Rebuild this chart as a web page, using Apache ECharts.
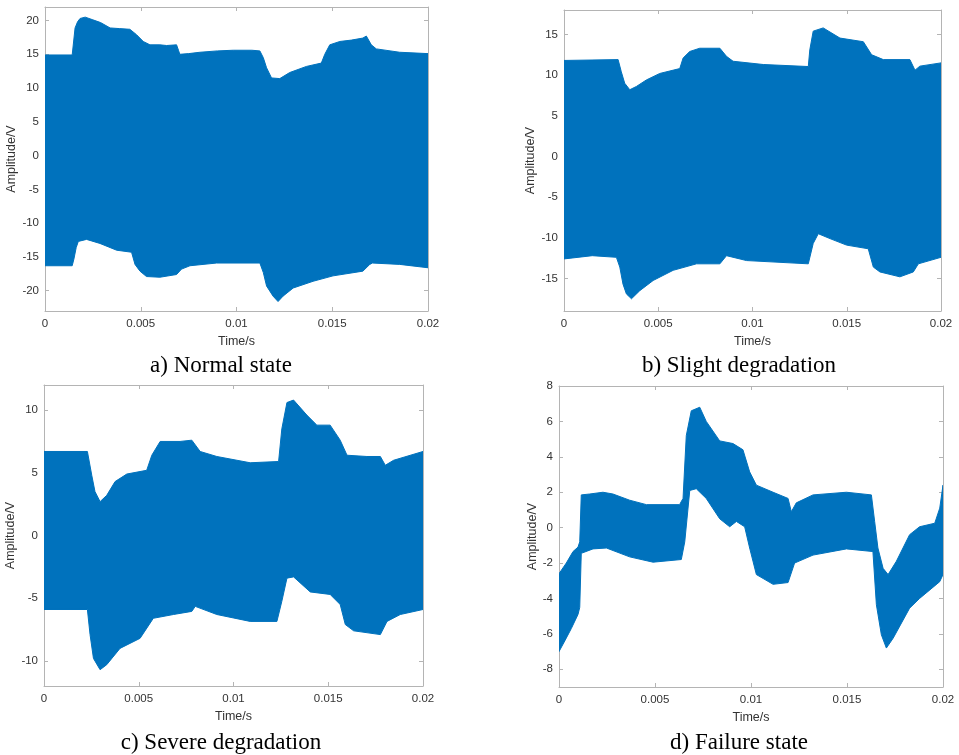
<!DOCTYPE html>
<html>
<head>
<meta charset="utf-8">
<script src="https://cdn.jsdelivr.net/npm/echarts@6/dist/echarts.min.js"></script>
<style>html,body{margin:0;padding:0;background:#fff;}#c{width:959px;height:755px;}</style>
</head>
<body>
<div id="c"></div>
<script>
// ---- Data: envelopes of the sampled voltage signal (time in s, amplitude in V) ----
const captions = ['a) Normal state', 'b) Slight degradation', 'c) Severe degradation', 'd) Failure state'];
const xTicks = [0, 0.005, 0.01, 0.015, 0.02];
const yTicksA = [-20, -15, -10, -5, 0, 5, 10, 15, 20];
const yTicksB = [-15, -10, -5, 0, 5, 10, 15];
const yTicksC = [-10, -5, 0, 5, 10];
const yTicksD = [-8, -6, -4, -2, 0, 2, 4, 6, 8];

// a) Normal state
const aUpT = [0, 0.00142, 0.00157, 0.0017, 0.00183, 0.0021, 0.0025, 0.0029, 0.0034, 0.0039, 0.00443, 0.00478, 0.00513, 0.00548, 0.006, 0.00635, 0.00687, 0.00697, 0.00704, 0.0075, 0.00809, 0.009, 0.00983, 0.0108, 0.01122, 0.0114, 0.01157, 0.01183, 0.01226, 0.01278, 0.01365, 0.01443, 0.01461, 0.01487, 0.0154, 0.016, 0.0166, 0.01678, 0.01704, 0.0173, 0.01852, 0.02];
const aUpV = [14.9, 14.9, 18.9, 19.8, 20.3, 20.5, 20.1, 19.7, 18.9, 18.8, 18.7, 17.9, 16.9, 16.4, 16.4, 16.3, 16.4, 15.6, 15.0, 15.1, 15.3, 15.5, 15.6, 15.6, 15.5, 14.5, 13.0, 11.5, 11.4, 12.3, 13.2, 13.7, 15.0, 16.4, 16.9, 17.1, 17.4, 17.7, 16.4, 15.8, 15.3, 15.1];
const aLoT = [0, 0.00142, 0.00151, 0.00163, 0.00174, 0.00217, 0.00287, 0.00374, 0.00452, 0.0047, 0.00496, 0.0053, 0.006, 0.00687, 0.00713, 0.00757, 0.00896, 0.01122, 0.0114, 0.01157, 0.01191, 0.01217, 0.01243, 0.01296, 0.014, 0.01504, 0.0166, 0.01696, 0.0171, 0.01852, 0.02];
const aLoV = [-16.3, -16.3, -15.3, -13.6, -12.7, -12.4, -13.0, -14.0, -14.3, -16.1, -17.1, -17.9, -18.0, -17.6, -16.8, -16.3, -15.9, -15.9, -17.3, -19.3, -20.8, -21.6, -20.8, -19.6, -18.6, -17.8, -17.1, -16.1, -15.9, -16.1, -16.6];

// b) Slight degradation
const bUpT = [0, 0.00287, 0.00304, 0.00322, 0.00349, 0.00384, 0.00437, 0.00508, 0.00614, 0.00632, 0.00667, 0.0072, 0.00827, 0.00862, 0.00897, 0.01057, 0.01296, 0.01304, 0.01322, 0.01375, 0.01464, 0.01588, 0.01632, 0.01694, 0.01835, 0.01862, 0.01888, 0.02];
const bUpV = [11.8, 11.9, 10.4, 9.0, 8.2, 8.6, 9.4, 10.2, 10.8, 12.1, 12.9, 13.3, 13.3, 12.3, 11.7, 11.3, 11.05, 13.1, 15.4, 15.8, 14.55, 14.1, 12.5, 11.9, 11.9, 10.6, 11.1, 11.5];
const bLoT = [0, 0.0015, 0.00278, 0.00296, 0.00313, 0.00331, 0.00358, 0.00402, 0.00473, 0.00579, 0.00703, 0.00827, 0.00862, 0.00968, 0.01296, 0.01322, 0.01349, 0.01411, 0.01499, 0.01614, 0.01641, 0.01676, 0.01782, 0.01853, 0.0188, 0.02];
const bLoV = [-12.6, -12.2, -12.4, -13.6, -15.7, -16.9, -17.5, -16.5, -15.25, -14.0, -13.2, -13.2, -12.2, -12.8, -13.2, -10.7, -9.5, -10.1, -10.9, -11.35, -13.6, -14.2, -14.8, -14.2, -13.2, -12.4];

// c) Severe degradation
const cUpT = [0, 0.00229, 0.00252, 0.00269, 0.00296, 0.00331, 0.00375, 0.00437, 0.00542, 0.00569, 0.00613, 0.00718, 0.0078, 0.00824, 0.00912, 0.01088, 0.01238, 0.01255, 0.01282, 0.01317, 0.01387, 0.0144, 0.0151, 0.01563, 0.01599, 0.01704, 0.01775, 0.01801, 0.01845, 0.02];
const cUpV = [6.7, 6.7, 4.8, 3.5, 2.7, 3.2, 4.3, 4.9, 5.2, 6.4, 7.5, 7.5, 7.6, 6.7, 6.3, 5.8, 5.9, 8.5, 10.6, 10.8, 9.6, 8.8, 8.8, 7.6, 6.4, 6.3, 6.3, 5.6, 6.0, 6.7];
const cLoT = [0, 0.00229, 0.00243, 0.00261, 0.00296, 0.00331, 0.00401, 0.00507, 0.00577, 0.00683, 0.0078, 0.00798, 0.00912, 0.01088, 0.01229, 0.01255, 0.01282, 0.01317, 0.01405, 0.0151, 0.01563, 0.0159, 0.01634, 0.01775, 0.0181, 0.0188, 0.02];
const cLoV = [-5.9, -5.9, -7.9, -9.8, -10.7, -10.3, -9.0, -8.2, -6.6, -6.3, -6.05, -5.65, -6.3, -6.85, -6.85, -5.25, -3.4, -3.3, -4.5, -4.7, -5.5, -7.1, -7.6, -7.9, -6.85, -6.3, -5.9];

// d) Failure state
const dUpT = [0, 0.00038, 0.00073, 0.00099, 0.00108, 0.00116, 0.0016, 0.00229, 0.00281, 0.00368, 0.00455, 0.00628, 0.00646, 0.00663, 0.00689, 0.00733, 0.00767, 0.00837, 0.00906, 0.00958, 0.00993, 0.01028, 0.01115, 0.01193, 0.0121, 0.01236, 0.01323, 0.01497, 0.01627, 0.01644, 0.01661, 0.01688, 0.01714, 0.01757, 0.01826, 0.01878, 0.01957, 0.01983, 0.02];
const dUpV = [-2.6, -2.0, -1.35, -1.1, -0.8, 1.85, 1.9, 2.0, 1.9, 1.55, 1.3, 1.3, 1.65, 5.2, 6.6, 6.8, 6.0, 4.9, 4.75, 4.4, 3.15, 2.4, 2.0, 1.65, 0.9, 1.4, 1.85, 2.0, 1.85, 0.35, -1.15, -2.3, -2.65, -1.9, -0.4, 0.05, 0.25, 1.1, 2.4];
const dLoT = [0, 0.0003, 0.00064, 0.00099, 0.00108, 0.00116, 0.00177, 0.00247, 0.00368, 0.0049, 0.00637, 0.00655, 0.00681, 0.00715, 0.00767, 0.00837, 0.00889, 0.00924, 0.00967, 0.00993, 0.01028, 0.01115, 0.01193, 0.01227, 0.01323, 0.01497, 0.01635, 0.01653, 0.01679, 0.01705, 0.0174, 0.01826, 0.01878, 0.01983, 0.02];
const dLoV = [-7.0, -6.4, -5.7, -4.9, -4.5, -1.45, -1.2, -1.15, -1.65, -1.95, -1.8, -0.8, 2.1, 2.2, 1.65, 0.5, 0.05, 0.35, 0.05, -1.15, -2.65, -3.2, -3.1, -2.0, -1.55, -1.2, -1.35, -4.35, -6.05, -6.8, -6.25, -4.55, -4.0, -3.05, -2.65];

// ---- Layout / styling ----
const panels = [
  {grid: {left: 45, top: 7, width: 383, height: 304}, yMin: -23, yMax: 22, yTicks: yTicksA, nameGap: 27,
   up: [aUpT, aUpV], lo: [aLoT, aLoV], cap: [221, 366]},
  {grid: {left: 564, top: 10, width: 377, height: 301}, yMin: -19, yMax: 18, yTicks: yTicksB, nameGap: 26,
   up: [bUpT, bUpV], lo: [bLoT, bLoV], cap: [739, 366]},
  {grid: {left: 44, top: 385, width: 379, height: 301}, yMin: -12, yMax: 12, yTicks: yTicksC, nameGap: 26,
   up: [cUpT, cUpV], lo: [cLoT, cLoV], cap: [221, 743]},
  {grid: {left: 559, top: 386, width: 384, height: 301}, yMin: -9, yMax: 8, yTicks: yTicksD, nameGap: 20,
   up: [dUpT, dUpV], lo: [dLoT, dLoV], cap: [739, 743]}
];

const BLUE = '#0072BD';
const FRAME = '#b4b4b4';
const LABEL = '#333333';
const SANS = 'Liberation Sans, Arial, sans-serif';

const grids = [], xAxes = [], yAxes = [], series = [], graphics = [];

panels.forEach((p, i) => {
  grids.push(Object.assign({containLabel: false}, p.grid));
  const tickStyle = {show: true, inside: true, length: 4, lineStyle: {color: FRAME}};
  // bottom x
  xAxes.push({
    type: 'value', gridIndex: i, position: 'bottom', min: 0, max: 0.02, interval: 0.005,
    name: 'Time/s', nameLocation: 'middle', nameGap: 24,
    nameTextStyle: {fontFamily: SANS, fontSize: 12.5, color: LABEL},
    axisLine: {show: true, onZero: false, lineStyle: {color: FRAME}},
    axisTick: tickStyle,
    axisLabel: {fontFamily: SANS, fontSize: 11.5, color: LABEL, margin: 7,
      formatter: v => String(+v.toFixed(3))},
    splitLine: {show: false}
  });
  // top x (frame + ticks)
  xAxes.push({
    type: 'value', gridIndex: i, position: 'top', min: 0, max: 0.02, interval: 0.005,
    axisLine: {show: true, onZero: false, lineStyle: {color: FRAME}},
    axisTick: tickStyle, axisLabel: {show: false}, splitLine: {show: false}
  });
  // left y
  yAxes.push({
    type: 'value', gridIndex: i, position: 'left', min: p.yMin, max: p.yMax,
    name: 'Amplitude/V', nameLocation: 'middle', nameGap: p.nameGap, nameRotate: 90,
    nameTextStyle: {fontFamily: SANS, fontSize: 12.5, color: LABEL},
    axisLine: {show: true, onZero: false, lineStyle: {color: FRAME}},
    axisTick: Object.assign({customValues: p.yTicks}, tickStyle),
    axisLabel: {fontFamily: SANS, fontSize: 11.5, color: LABEL, margin: 6, customValues: p.yTicks},
    splitLine: {show: false}
  });
  // right y (frame + ticks)
  yAxes.push({
    type: 'value', gridIndex: i, position: 'right', min: p.yMin, max: p.yMax,
    axisLine: {show: true, onZero: false, lineStyle: {color: FRAME}},
    axisTick: Object.assign({customValues: p.yTicks}, tickStyle),
    axisLabel: {show: false, customValues: p.yTicks}, splitLine: {show: false}
  });

  const upPts = p.up[0].map((t, k) => [t, p.up[1][k]]);
  const loPts = p.lo[0].map((t, k) => [t, p.lo[1][k]]);
  const poly = upPts.concat(loPts.slice().reverse());
  series.push({
    type: 'custom', xAxisIndex: i * 2, yAxisIndex: i * 2, data: poly, clip: true, silent: true,
    renderItem: (params, api) => {
      if (params.dataIndex !== 0) return null;
      const pts = poly.map(pt => api.coord(pt));
      return {type: 'polygon', shape: {points: pts},
        style: {fill: BLUE, stroke: BLUE, lineWidth: 1}};
    }
  });

  graphics.push({
    type: 'text', x: p.cap[0], y: p.cap[1],
    style: {text: captions[i], fill: '#000', font: '23px "Liberation Serif", "Times New Roman", serif',
      textAlign: 'center', textVerticalAlign: 'middle'}
  });
});

const chart = echarts.init(document.getElementById('c'), null, {renderer: 'canvas'});
chart.setOption({
  backgroundColor: '#ffffff',
  animation: false,
  grid: grids,
  xAxis: xAxes,
  yAxis: yAxes,
  series: series,
  graphic: graphics
});
</script>
</body>
</html>
